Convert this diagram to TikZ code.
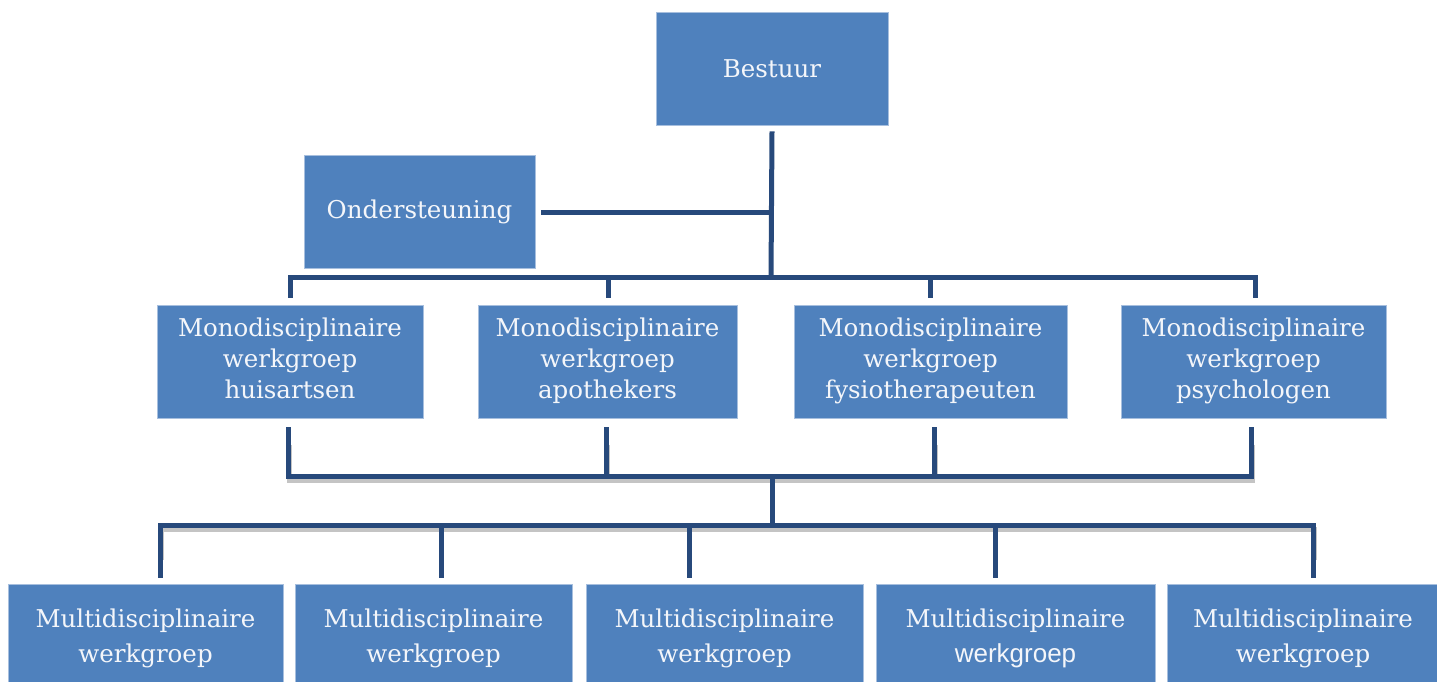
\documentclass[tikz,border=0pt]{standalone}
\usepackage{fontspec}
\setmainfont{DejaVu Serif}
\newfontfamily\armfont{Liberation Sans}
\definecolor{boxfill}{HTML}{4F81BD}
\definecolor{boxedge}{HTML}{A7BFDE}
\definecolor{linecol}{HTML}{27497B}
\definecolor{txtcol}{HTML}{F4F6FA}
\definecolor{shadowcol}{HTML}{C4C4C4}
\tikzset{
  orgbox/.style={rectangle, fill=boxfill, draw=boxedge, line width=0.8pt, text=txtcol,
    align=center, inner sep=0pt, font=\fontsize{24.5}{31}\selectfont},
  multibox/.style={orgbox, font=\fontsize{24.5}{35}\selectfont},
  conn/.style={draw=linecol, line width=5pt},
  shad/.style={draw=shadowcol, line width=5pt},
}
\begin{document}
\begin{tikzpicture}[x=1pt,y=-1pt]
\useasboundingbox (0,0) rectangle (1437,682);
% boxes
\node[orgbox, minimum width=232, minimum height=113] (bes) at (772,68.5) {Bestuur};
\node[orgbox, minimum width=231, minimum height=113] (ond) at (419.5,211.5) {Ondersteuning};
\node[orgbox, minimum width=266, minimum height=113] (m1) at (290,361.5) {\strut Monodisciplinaire\\werkgroep\\huisartsen\strut};
\node[orgbox, minimum width=259, minimum height=113] (m2) at (607.5,361.5) {\strut Monodisciplinaire\\werkgroep\\apothekers\strut};
\node[orgbox, minimum width=273, minimum height=113] (m3) at (930.5,361.5) {\strut Monodisciplinaire\\werkgroep\\fysiotherapeuten\strut};
\node[orgbox, minimum width=265, minimum height=113] (m4) at (1253.5,361.5) {\strut Monodisciplinaire\\werkgroep\\psychologen\strut};
\node[multibox, minimum width=275, minimum height=108] (u1) at (145.5,638) {\strut Multidisciplinaire\\werkgroep\strut};
\node[multibox, minimum width=277, minimum height=108] (u2) at (433.5,638) {\strut Multidisciplinaire\\werkgroep\strut};
\node[multibox, minimum width=277, minimum height=108] (u3) at (724.5,638) {\strut Multidisciplinaire\\werkgroep\strut};
\node[multibox, minimum width=279, minimum height=108] (u4) at (1015.5,638) {\strut Multidisciplinaire\\{\armfont\fontsize{26}{35}\selectfont werkgroep}\strut};
\node[multibox, minimum width=272, minimum height=108] (u5) at (1303,638) {\strut Multidisciplinaire\\werkgroep\strut};
% junction coordinates
\coordinate (j1) at (771,277);
\coordinate (j0) at (771,212);
\coordinate (j2) at (772,476);
\coordinate (j3) at (772,525);
% shadows of lower connectors
\draw[shad] (289,445) -- (289,480) -- (1252,480) -- (1252,445);
\draw[shad] (607,445) -- (607,480);
\draw[shad] (935,445) -- (935,480);
\draw[shad] (161,560) -- (161,529) -- (1314,529) -- (1314,560);
% connectors
\draw[conn] ([yshift=-6]bes.south) -- (j1);
\draw[conn] ([xshift=6]ond.east |- j0) -- (j0);
\draw[conn] ([yshift=7]m1.north -| 290,0) |- (j1) -| ([yshift=7]m4.north -| 1255,0);
\draw[conn] (608,277) -- ([yshift=7]m2.north -| 608,0);
\draw[conn] (930,277) -- ([yshift=7]m3.north -| 930,0);
\draw[conn] ([yshift=-9]m1.south -| 288,0) |- (j2) -| ([yshift=-9]m4.south -| 1251,0);
\draw[conn] ([yshift=-9]m2.south -| 606,0) -- (606,476);
\draw[conn] ([yshift=-9]m3.south -| 934,0) -- (934,476);
\draw[conn] (j2) -- (j3);
\draw[conn] ([yshift=6]u1.north -| 160,0) |- (j3) -| ([yshift=6]u5.north -| 1313,0);
\draw[conn] (441,525) -- ([yshift=6]u2.north -| 441,0);
\draw[conn] (689,525) -- ([yshift=6]u3.north -| 689,0);
\draw[conn] (995,525) -- ([yshift=6]u4.north -| 995,0);
\end{tikzpicture}
\end{document}
